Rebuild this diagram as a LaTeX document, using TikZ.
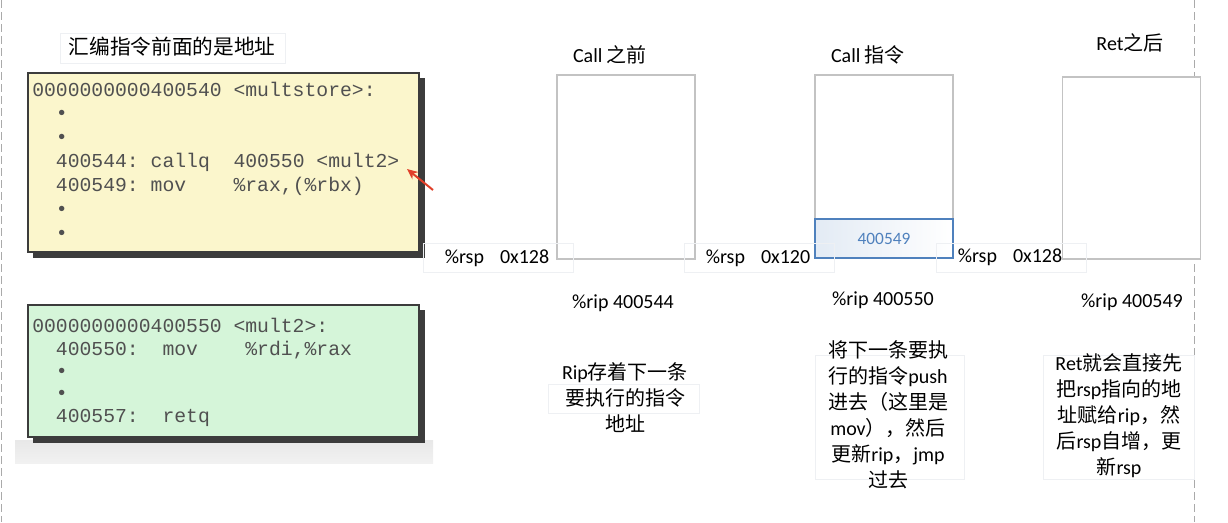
\documentclass[tikz,border=0pt]{standalone}
\usepackage{fontspec}
\setmainfont{Carlito}
\newfontfamily\cjk{Noto Sans CJK SC}
\newfontfamily\code{Liberation Mono}
\usetikzlibrary{arrows.meta}
\definecolor{codeyellow}{RGB}{251,246,204}
\definecolor{codegreen}{RGB}{213,245,217}
\definecolor{codetext}{RGB}{80,80,80}
\definecolor{stackline}{RGB}{195,195,195}
\definecolor{faint}{RGB}{238,240,243}
\definecolor{pushblue}{RGB}{79,129,189}
\definecolor{arrred}{RGB}{224,64,42}
\definecolor{shadowgray}{RGB}{60,60,60}
\definecolor{stripgray}{RGB}{232,232,232}
\definecolor{dashgray}{RGB}{170,170,170}
\begin{document}
\begin{tikzpicture}[x=0.75pt,y=-0.75pt,
  codeline/.style={anchor=base west, inner sep=0pt, text=codetext,
    font=\code\fontsize{14.8}{16}\selectfont},
  codebox/.style={draw=shadowgray, line width=1.2pt},
  shadowbox/.style={fill=shadowgray, draw=none},
  stackbox/.style={draw=stackline, line width=0.8pt, fill=white},
  faintbox/.style={draw=faint, line width=0.6pt},
  lbl/.style={inner sep=0pt, font=\fontsize{15}{19.5}\selectfont},
  desc/.style={inner sep=0pt, align=center, font=\fontsize{15}{19.5}\selectfont},
  sepline/.style={draw=dashgray, dash pattern=on 6pt off 3pt, line width=0.7pt}
]
\useasboundingbox (0,0) rectangle (1228,522);

% page edge lines
\draw[sepline] (1.5,0) -- (1.5,522);
\draw[sepline] (1194,0) -- (1194,522);

% title
\draw[faintbox] (60,33) rectangle (285,63);
\node[lbl, font=\cjk\fontsize{15.5}{18}\selectfont] (title) at (172,47) {汇编指令前面的是地址};

% yellow code box
\fill[shadowbox] (33,78) rectangle (425,258);
\draw[codebox, fill=codeyellow] (28,73) rectangle (419,252);
\node[codeline] (y1) at (32,96.5) {0000000000400540~<multstore>:};
\node[codeline] (y2) at (32,119.5) {~~•};
\node[codeline] (y3) at (32,143.5) {~~•};
\node[codeline] (y4) at (32,167.5) {~~400544:~callq~~400550~<mult2>};
\node[codeline] (y5) at (32,191.5) {~~400549:~mov~~~~\%rax,(\%rbx)};
\node[codeline] (y6) at (32,215.5) {~~•};
\node[codeline] (y7) at (32,239.5) {~~•};

% red arrow
\coordinate (arrtail) at (433,190);
\coordinate (arrhead) at (407,169);
\draw[arrred, line width=1.5pt, -{Stealth[length=8pt,width=7pt]}] (arrtail) -- (arrhead);

% green code box
\shade[top color=stripgray, bottom color=stripgray!60] (15,440) rectangle (433,463);
\fill[shadowbox] (33,310) rectangle (425,443);
\draw[codebox, fill=codegreen] (28,305) rectangle (419,437);
\node[codeline] (g1) at (32,332.5) {0000000000400550~<mult2>:};
\node[codeline] (g2) at (32,355.5) {~~400550:~~mov~~~~\%rdi,\%rax};
\node[codeline] (g3) at (32,377.5) {~~•};
\node[codeline] (g4) at (32,399.5) {~~•};
\node[codeline] (g5) at (32,422.5) {~~400557:~~retq};

% stack column 1: before call
\node[lbl] (t1) at (610,55) {Call {\cjk 之前}};
\node[stackbox, minimum width=103.5pt, minimum height=138pt, inner sep=0pt] (s1) at (626,167) {};
\draw[faintbox] (423,243) rectangle (573,272);
\node[lbl] (r1) at (497,258) {\%rsp\hspace{12pt}0x128};
\node[lbl] (p1) at (623,303) {\%rip 400544};
\draw[faintbox] (548,384) rectangle (699,413);
\node[desc] (d1) at (625,398) {Rip{\cjk 存着下一条}\\{\cjk 要执行的指令}\\{\cjk 地址}};

% stack column 2: call instruction
\node[lbl] (t2) at (868,55) {Call {\cjk 指令}};
\node[stackbox, minimum width=103.5pt, minimum height=137.25pt, inner sep=0pt] (s2) at (884,166.5) {};
\shade[left color=pushblue!16, right color=white] (815,219) rectangle (953,258);
\node[draw=pushblue, line width=0.8pt, minimum width=103.5pt, minimum height=29.25pt, inner sep=0pt,
  text=pushblue, font=\fontsize{13}{15}\selectfont] (push) at (884,238.5) {400549};
\draw[faintbox] (684,243) rectangle (834,272);
\node[lbl] (r2) at (758,258) {\%rsp\hspace{12pt}0x120};
\node[lbl] (p2) at (883,300) {\%rip 400550};
\draw[faintbox] (815,355) rectangle (964,479);
\node[desc] (d2) at (888,415) {{\cjk 将下一条要执}\\{\cjk 行的指令}push\\{\cjk 进去（这里是}\\mov{\cjk ），然后}\\{\cjk 更新}rip{\cjk ，}jmp\\{\cjk 过去}};

% stack column 3: after ret
\node[lbl] (t3) at (1130,43) {Ret{\cjk 之后}};
\node[stackbox, minimum width=103.5pt, minimum height=136.5pt, inner sep=0pt] (s3) at (1131.5,168) {};
\draw[faintbox] (936,243) rectangle (1086,272);
\node[lbl] (r3) at (1010,257) {\%rsp\hspace{12pt}0x128};
\node[lbl] (p3) at (1132,302) {\%rip 400549};
\draw[faintbox] (1043,355) rectangle (1194,479);
\node[desc] (d3) at (1119,416) {Ret{\cjk 就会直接先}\\{\cjk 把}rsp{\cjk 指向的地}\\{\cjk 址赋给}rip{\cjk ，然}\\{\cjk 后}rsp{\cjk 自增，更}\\{\cjk 新}rsp};
\end{tikzpicture}
\end{document}
